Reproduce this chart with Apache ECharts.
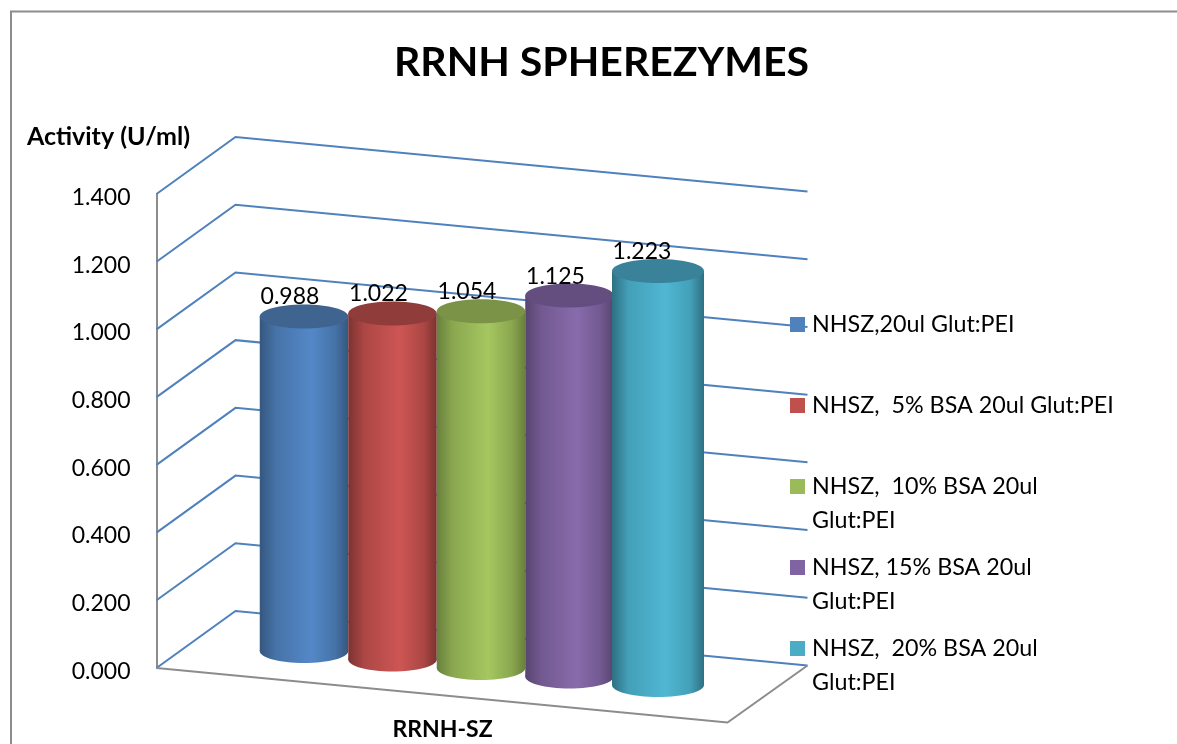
<!DOCTYPE html>
<html>
<head>
<meta charset="utf-8">
<style>html,body{margin:0;padding:0;background:#fff}#c{width:1177px;height:744px}</style>
<script src="https://cdn.jsdelivr.net/npm/echarts@6/dist/echarts.min.js"></script>
</head>
<body>
<div id="c"></div>
<script>
const titleText = 'RRNH SPHEREZYMES';
const yAxisName = 'Activity (U/ml)';
const categories = ['RRNH-SZ'];
const legendLines = [
  ['NHSZ,20ul Glut:PEI'],
  ['NHSZ,  5% BSA 20ul Glut:PEI'],
  ['NHSZ,  10% BSA 20ul', 'Glut:PEI'],
  ['NHSZ, 15% BSA 20ul', 'Glut:PEI'],
  ['NHSZ,  20% BSA 20ul', 'Glut:PEI']
];
const seriesValues = [0.988, 1.022, 1.054, 1.125, 1.223];
const yTicks = [0, 0.2, 0.4, 0.6, 0.8, 1.0, 1.2, 1.4];
const barColors = ['#4f81bd', '#c0504d', '#9bbb59', '#8064a2', '#4bacc6'];
const lightColors = ['#5388c8', '#cd5654', '#a5c760', '#886bac', '#50b7d3'];
const topColors = ['#3e648f', '#8f3c3a', '#7a9347', '#644e80', '#39829a'];
const edgeColors = ['#35577f', '#7c3331', '#67803d', '#574570', '#2f6f82'];
const midColors = ['#4673a8', '#ac4745', '#8aa74f', '#725990', '#43a0b8'];

const FONT = 'Lato';
const GRID = '#4f81bd';
const AXIS = '#8c8c8c';
const depthX = 79, depthY = -57, wallDrop = 54.5, frontDrop = 54.5, floorW = 571;
const barStep = 88.5, barCenterShift = 38.5, baseShift = 17, baseStep = 8.5;
const labelDY = -19.5;

function wallItem(params, api) {
  const p = api.coord([api.value(0), api.value(1)]);
  const band = api.size([1, 0])[0];
  const x0 = p[0] - band / 2, y = p[1];
  return {
    type: 'polyline',
    shape: { points: [[x0, y], [x0 + depthX, y + depthY], [x0 + depthX + floorW + 1, y + depthY + wallDrop]] },
    style: { fill: 'none', stroke: GRID, lineWidth: 2 }
  };
}
function floorItem(params, api) {
  const p = api.coord([api.value(0), 0]);
  const band = api.size([1, 0])[0];
  const x0 = p[0] - band / 2, y = p[1];
  return {
    type: 'polyline',
    shape: { points: [[x0, y], [x0 + floorW, y + frontDrop], [x0 + depthX + floorW + 1, y + depthY + wallDrop]] },
    style: { fill: 'none', stroke: AXIS, lineWidth: 2 }
  };
}
function barItem(idx) {
  return function (params, api) {
    const v = api.value(1);
    const c0 = api.coord([api.value(0), 0]);
    const c1 = api.coord([api.value(0), v]);
    const cx = c0[0] + barCenterShift + (idx - 2) * barStep;
    const rx = idx === 4 ? 46 : 44.25, ry = 12;
    const shift = -baseShift + idx * baseStep;
    const base = c0[1] + shift, top = c1[1] + shift;
    const fill = new echarts.graphic.LinearGradient(0, 0, 1, 0, [
      { offset: 0, color: edgeColors[idx] },
      { offset: 0.18, color: midColors[idx] },
      { offset: 0.58, color: lightColors[idx] },
      { offset: 0.85, color: midColors[idx] },
      { offset: 1, color: edgeColors[idx] }
    ]);
    return {
      type: 'group',
      children: [
        { type: 'ellipse', shape: { cx: cx, cy: base, rx: rx, ry: ry }, style: { fill: fill } },
        { type: 'rect', shape: { x: cx - rx, y: top, width: 2 * rx, height: base - top }, style: { fill: fill } },
        { type: 'ellipse', shape: { cx: cx, cy: top, rx: rx, ry: ry }, style: { fill: topColors[idx] } },
        {
          type: 'text', z2: 100,
          style: {
            text: v.toFixed(3), x: cx - (idx === 4 ? 16 : 14), y: top + labelDY,
            align: 'center', verticalAlign: 'middle',
            font: '23px ' + FONT, fill: '#000'
          }
        }
      ]
    };
  };
}

const seriesNames = legendLines.map(l => l.join(' '));
const legendTops = [313, 394, 475, 556, 637];
const legends = seriesNames.map((n, i) => ({
  data: [n], left: 790, top: legendTops[i], padding: 0,
  itemWidth: 15, itemHeight: 15, selectedMode: false, icon: 'rect',
  formatter: () => legendLines[i][0],
  textStyle: { fontFamily: FONT, fontSize: 23.3, color: '#000', lineHeight: 15, padding: [0, 0, 0, 2] }
}));
const secondLines = legendLines.map((l, i) => l[1] ? {
  type: 'text', left: 812, top: legendTops[i] + 34,
  style: { text: l[1], font: '23.3px ' + FONT, fill: '#000' }
} : null).filter(Boolean);

const chart = echarts.init(document.getElementById('c'), null, { renderer: 'canvas' });
chart.setOption({
  animation: false,
  backgroundColor: '#fff',
  color: barColors,
  title: {
    text: titleText, left: 596.5, top: 37, textAlign: 'center',
    textStyle: { fontFamily: FONT, fontWeight: 'bold', fontSize: 41, color: '#000' }
  },
  legend: legends,
  graphic: [
    { type: 'rect', z: -10, shape: { x: 11, y: 11.5, width: 1300, height: 900 }, style: { fill: 'none', stroke: AXIS, lineWidth: 2 } }
  ].concat(secondLines),
  grid: { left: 156.5, top: 194, width: 572, height: 474 },
  xAxis: {
    type: 'category', data: categories,
    axisLine: { show: false }, axisTick: { show: false },
    axisLabel: { margin: 50, fontFamily: FONT, fontWeight: 'bold', fontSize: 23, color: '#000' }
  },
  yAxis: {
    type: 'value', min: 0, max: 1.4, interval: 0.2,
    name: yAxisName, nameLocation: 'end', nameGap: 45,
    nameTextStyle: { fontFamily: FONT, fontWeight: 'bold', fontSize: 25, color: '#000', align: 'center', padding: [0, 96, 0, 0] },
    axisLine: { show: true, lineStyle: { color: AXIS, width: 2 } },
    axisTick: { show: false }, splitLine: { show: false },
    axisLabel: {
      margin: 26, color: '#000',
      formatter: v => '{t|' + v.toFixed(3) + '}',
      rich: { t: { fontFamily: FONT, fontSize: 23, color: '#000', padding: [7, 0, 0, 0] } }
    }
  },
  series: [
    { type: 'custom', name: 'walls', silent: true, z: 1, renderItem: wallItem, data: yTicks.map(v => [categories[0], v]), encode: { x: 0, y: 1 } },
    { type: 'custom', name: 'floor', silent: true, z: 1, renderItem: floorItem, data: [[categories[0], 0]], encode: { x: 0, y: 1 } }
  ].concat(seriesNames.map((n, i) => ({
    type: 'custom', name: n, z: 2 + i, renderItem: barItem(i),
    itemStyle: { color: barColors[i] },
    data: [[categories[0], seriesValues[i]]], encode: { x: 0, y: 1 }
  })))
});
</script>
</body>
</html>
